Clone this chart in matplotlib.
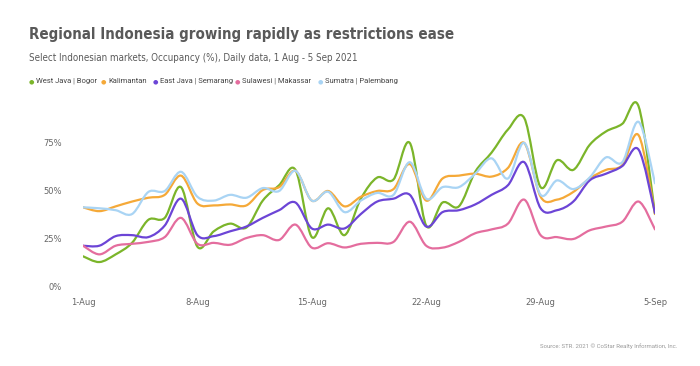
import matplotlib.pyplot as plt
import numpy as np
from matplotlib.path import Path
from matplotlib.patches import PathPatch

# days since 1 Aug 2021 (0 = 1-Aug, 35 = 5-Sep)
days = np.arange(36)

west_java_bogor = [16, 13, 17, 23, 35, 36, 52, 21, 29, 33, 31, 45, 53, 61, 26, 41, 27, 46,
                   57, 56, 75, 32, 44, 42, 60, 70, 82, 88, 52, 66, 61, 74, 81, 85, 94, 38]
kalimantan = [41.5, 39.5, 42, 44.5, 46.5, 48, 58, 43.5, 42.5, 43, 42.5, 50.5, 52, 60.5, 45, 50,
              42, 47, 50, 51, 64, 45, 56.5, 58, 59, 57.5, 62, 75, 47, 45.5, 49.5, 56.5, 61,
              63.5, 79, 38]
east_java_semarang = [21.5, 21.5, 26.5, 27, 26, 32, 46, 27, 26.5, 29, 31.5, 36, 40, 44, 30.5,
                      32.5, 30.5, 38, 44.5, 46, 48, 31.5, 39, 40, 43, 48, 53, 65, 41, 40, 44.5,
                      55.5, 59, 63, 71.5, 38.5]
sulawesi_makassar = [21.5, 17, 21.5, 22.5, 23.5, 26, 36, 22.5, 23, 22, 25.5, 27, 24.5, 32.5,
                     20.5, 22.8, 20.6, 22.5, 23, 23.5, 34, 21.5, 20.5, 23.5, 28, 30, 33, 45.5,
                     27, 26, 25, 29.5, 31.5, 34, 44.5, 30]
sumatra_palembang = [41.5, 41, 40, 38, 49.5, 50, 60, 47, 45, 48, 46.5, 51.5, 50, 60.5, 45,
                     49.6, 39, 45, 49, 48, 65, 46, 52, 52, 59, 67, 56.5, 75, 48, 55.5, 51, 57,
                     67.5, 65, 86, 54]

series_names = ["West Java | Bogor", "Kalimantan", "East Java | Semarang",
                "Sulawesi | Makassar", "Sumatra | Palembang"]
series_values = [west_java_bogor, kalimantan, east_java_semarang,
                 sulawesi_makassar, sumatra_palembang]
colors = ["#7BB52A", "#F5A938", "#6C45D6", "#E46D9E", "#A9D4F4"]

tick_days = [0, 7, 14, 21, 28, 35]
tick_labels = ["1-Aug", "8-Aug", "15-Aug", "22-Aug", "29-Aug", "5-Sep"]
y_ticks = [0, 25, 50, 75]


def smooth_path(x, y):
    # Catmull-Rom style curve through the points, drawn as cubic Bezier segments
    pts = np.column_stack([x, y]).astype(float)
    verts = [pts[0]]
    codes = [Path.MOVETO]
    n = len(pts)
    for i in range(n - 1):
        p0 = pts[max(i - 1, 0)]
        p1 = pts[i]
        p2 = pts[i + 1]
        p3 = pts[min(i + 2, n - 1)]
        c1 = p1 + (p2 - p0) / 6.0
        c2 = p2 - (p3 - p1) / 6.0
        verts += [c1, c2, p2]
        codes += [Path.CURVE4] * 3
    return Path(verts, codes)


fig = plt.figure(figsize=(7, 3.66), dpi=100)
ax = fig.add_axes([83 / 700, 1 - 287 / 366, 572 / 700, 192 / 366])

for vals, color in zip(series_values, colors):
    patch = PathPatch(smooth_path(days, vals), facecolor="none", edgecolor=color,
                      linewidth=1.6, capstyle="round", joinstyle="round")
    ax.add_patch(patch)

ax.set_xlim(0, 35)
ax.set_ylim(0, 100)
for s in ax.spines.values():
    s.set_visible(False)
ax.set_xticks(tick_days)
ax.set_xticklabels(tick_labels)
ax.set_yticks(y_ticks)
ax.set_yticklabels([f"{v}%" for v in y_ticks])
ax.tick_params(axis="both", length=0, labelsize=6, labelcolor="#666666")
ax.tick_params(axis="y", pad=15)
ax.tick_params(axis="x", pad=8)

fig.text(29 / 700, 1 - 35 / 366, "Regional Indonesia growing rapidly as restrictions ease",
         family="DejaVu Sans", fontstretch="condensed", fontsize=10.8, fontweight="bold",
         color="#595959", va="center")
fig.text(29 / 700, 1 - 58 / 366,
         "Select Indonesian markets, Occupancy (%), Daily data, 1 Aug - 5 Sep 2021",
         family="DejaVu Sans", fontstretch="condensed", fontsize=7.0, color="#595959",
         va="center")

legend_x = [31, 103, 155, 237, 320]
for name, color, lx in zip(series_names, colors, legend_x):
    fig.text(lx / 700, 1 - 81.5 / 366, "\u25CF", fontsize=4.5, color=color,
             va="center", ha="center")
    fig.text((lx + 5) / 700, 1 - 81 / 366, name, fontsize=5.5, color="#444444",
             va="center", family="Roboto")

fig.text(677 / 700, 1 - 346 / 366, "Source: STR. 2021 \u00A9 CoStar Realty Information, Inc.",
         family="Roboto", fontsize=4.3, color="#9a9a9a", ha="right", va="center")

fig.savefig("out.png", dpi=100, facecolor="white")
